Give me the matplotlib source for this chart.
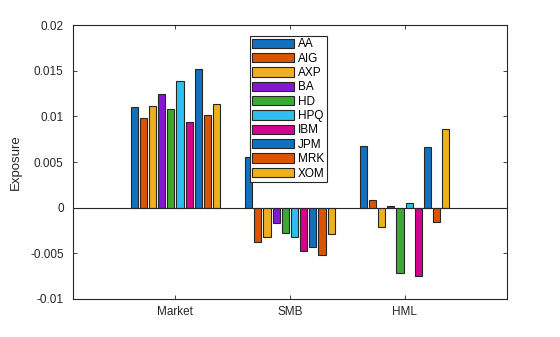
import numpy as np
import matplotlib
matplotlib.use("Agg")
import matplotlib.pyplot as plt

# factor exposures per stock
factors = ["Market", "SMB", "HML"]
stocks = ["AA", "AIG", "AXP", "BA", "HD", "HPQ", "IBM", "JPM", "MRK", "XOM"]
market = [0.01106, 0.00985, 0.01117, 0.01241, 0.01084, 0.01391, 0.00942, 0.01522, 0.01018, 0.01142]
smb = [0.00558, -0.00383, -0.00328, -0.00164, -0.00274, -0.00318, -0.00471, -0.00438, -0.00515, -0.00292]
hml = [0.00679, 0.0008, -0.00208, 0.0002, -0.00723, 0.00055, -0.00752, 0.00668, -0.00153, 0.00865]
yticks = [-0.01, -0.005, 0, 0.005, 0.01, 0.015, 0.02]
ytick_labels = ["-0.01", "-0.005", "0", "0.005", "0.01", "0.015", "0.02"]

# 7-colour cycle, wraps for JPM/MRK/XOM
palette = ["#1171BE", "#DD5400", "#EDB120", "#8516D1", "#3BAA32", "#2FBEEF", "#D1048B"]

plt.rcParams['font.family'] = ['Liberation Sans', 'DejaVu Sans']

fig = plt.figure(figsize=(5.6, 3.37), dpi=100)
ax = fig.add_axes([0.131, 0.1136, 0.7735, 0.8113])

data = np.array([market, smb, hml])  # factors x stocks
x = np.arange(1, len(factors) + 1)
n = len(stocks)
pitch = 0.8 / n
width = pitch * 0.78
for i, name in enumerate(stocks):
    off = (i - (n - 1) / 2) * pitch
    ax.bar(x + off, data[:, i], width, color=palette[i % len(palette)],
           edgecolor="#262626", linewidth=0.8, label=name, zorder=3)

ax.axhline(0, color="#262626", linewidth=0.8, zorder=4)
ax.set_xlim(0.11, 3.89)
ax.set_ylim(-0.01, 0.02)
ax.set_xticks(x)
ax.set_xticklabels(factors)
ax.set_yticks(yticks)
ax.set_yticklabels(ytick_labels)
ax.set_ylabel("Exposure", fontsize=9.5, color="#262626", labelpad=6)
ax.tick_params(direction="in", top=True, right=True, length=3, width=0.6,
               labelsize=8.5, colors="#262626")
ax.tick_params(axis="y", pad=7)
ax.tick_params(axis="x", pad=5)
for s in ax.spines.values():
    s.set_linewidth(0.8)
    s.set_color("#262626")

leg = ax.legend(loc="upper left", bbox_to_anchor=(0.408, 0.961), borderaxespad=0,
                fontsize=8.5, handlelength=3.5, handleheight=0.85, labelspacing=0.2,
                handletextpad=0.35, borderpad=0.2, fancybox=False, framealpha=1)
leg.get_frame().set_edgecolor("#262626")
leg.get_frame().set_linewidth(0.8)

fig.savefig("out.png", dpi=100)
